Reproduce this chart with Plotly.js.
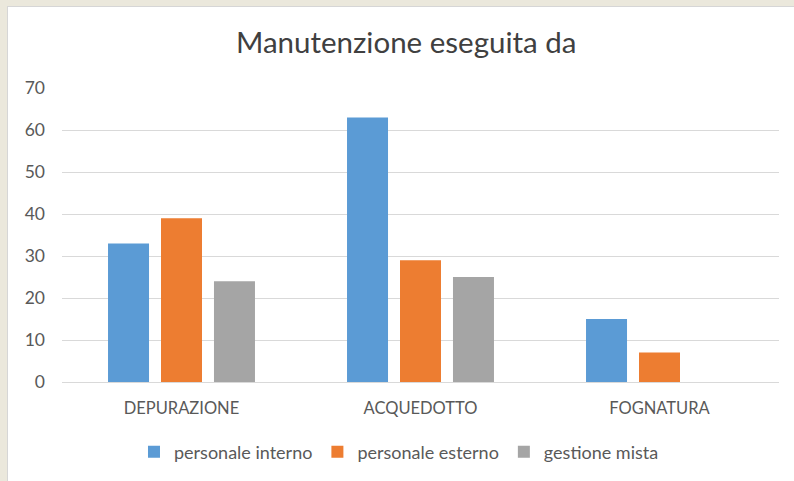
<!DOCTYPE html>
<html>
<head>
<meta charset="utf-8">
<script src="https://cdn.plot.ly/plotly-3.0.1.min.js"></script>
<style>
html, body { margin: 0; padding: 0; width: 794px; height: 481px; overflow: hidden; background: #ebe8dc; }
#frame { position: absolute; left: 7px; top: 6px; width: 787px; height: 475px; background: #ffffff; border-left: 1px solid #d6d6d6; border-top: 1px solid #d6d6d6; }
#chart { position: absolute; left: 0; top: 0; width: 787px; height: 475px; }
</style>
</head>
<body>
<div id="frame"><div id="chart"></div></div>
<script>
const categories = ["DEPURAZIONE", "ACQUEDOTTO", "FOGNATURA"];
const seriesNames = ["personale interno", "personale esterno", "gestione mista"];
const personaleInterno = [33, 63, 15];
const personaleEsterno = [39, 29, 7];
const gestioneMista = [24, 25, null];
const yTicks = [0, 10, 20, 30, 40, 50, 60, 70];

const colors = ["#5b9bd5", "#ed7d31", "#a5a5a5"];
const values = [personaleInterno, personaleEsterno, gestioneMista];
const FONT = "Lato, 'Open Sans', sans-serif";

const traces = values.map((v, i) => ({
  type: "bar",
  name: seriesNames[i],
  x: categories,
  y: v,
  marker: { color: colors[i], line: { width: 0 } },
  hoverinfo: "skip"
}));

const layout = {
  width: 787, height: 475,
  paper_bgcolor: "#ffffff",
  plot_bgcolor: "#ffffff",
  margin: { l: 54, r: 16, t: 81, b: 100 },
  barmode: "group",
  bargap: 0.335,
  bargroupgap: 0.226,
  title: {
    text: "Manutenzione eseguita da",
    font: { family: FONT, size: 29.5, color: "#404040" },
    x: 0.506, xanchor: "center",
    y: 1 - 35.5 / 475, yanchor: "middle", yref: "container"
  },
  xaxis: {
    tickfont: { family: FONT, size: 16.5, color: "#595959" },
    showgrid: false,
    showline: false,
    ticks: "",
    ticklabelstandoff: 14,
    zeroline: false
  },
  yaxis: {
    range: [0, 70],
    tickvals: yTicks,
    ticktext: yTicks.map(String),
    tickfont: { family: FONT, size: 17.5, color: "#595959" },
    showgrid: true,
    gridcolor: "#d9d9d9",
    gridwidth: 1,
    zeroline: true,
    zerolinecolor: "#d9d9d9",
    zerolinewidth: 1,
    showline: false,
    ticks: "",
    ticklabelstandoff: 16
  },
  showlegend: true,
  legend: {
    orientation: "h",
    x: 0.47, xanchor: "center",
    y: 1 - 445 / 475, yanchor: "middle", yref: "container",
    font: { family: FONT, size: 18, color: "#595959" },
    itemwidth: 30,
    tracegroupgap: 0
  }
};

Plotly.newPlot("chart", traces, layout, { displayModeBar: false, staticPlot: true });
</script>
</body>
</html>
